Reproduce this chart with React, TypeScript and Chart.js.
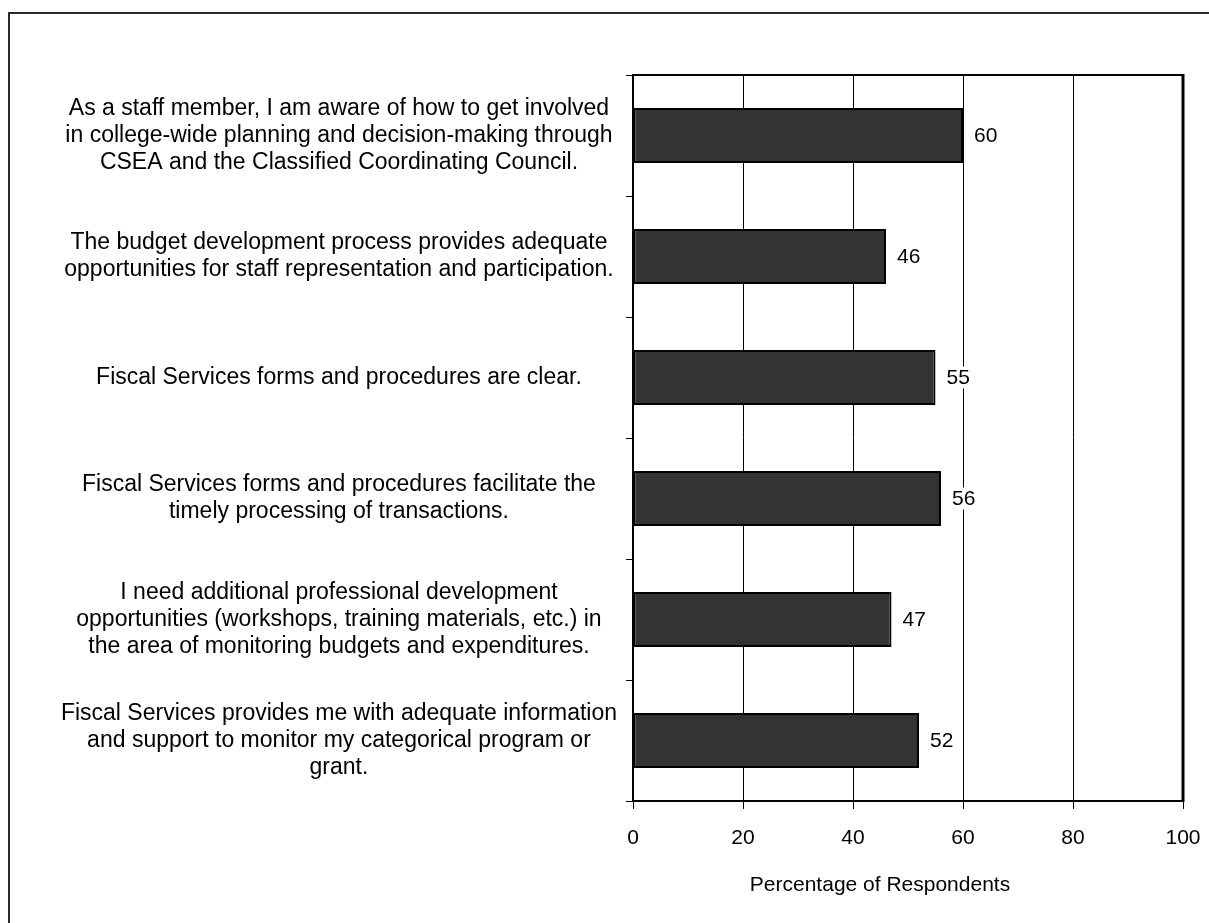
import React, { useEffect, useRef } from "react";
import { Chart, registerables } from "chart.js";

Chart.register(...registerables);

// Survey statements (multi-line labels) and the share of respondents agreeing
const statements: string[][] = [
  [
    "As a staff member, I am aware of how to get involved",
    "in college-wide planning and decision-making through",
    "CSEA and the Classified Coordinating Council.",
  ],
  [
    "The budget development process provides adequate",
    "opportunities for staff representation and participation.",
  ],
  ["Fiscal Services forms and procedures are clear."],
  [
    "Fiscal Services forms and procedures facilitate the",
    "timely processing of transactions.",
  ],
  [
    "I need additional professional development",
    "opportunities (workshops, training materials, etc.) in",
    "the area of monitoring budgets and expenditures.",
  ],
  [
    "Fiscal Services provides me with adequate information",
    "and support to monitor my categorical program or",
    "grant.",
  ],
];

const percentages: number[] = [60, 46, 55, 56, 47, 52];

const axisMin = 0;
const axisMax = 100;
const axisStep = 20;
const axisTitle = "Percentage of Respondents";

const FONT = "'Liberation Sans', Arial, Helvetica, sans-serif";

// Page frame (top and left rule) plus a box around the plotting area
const framePlugin = {
  id: "frame",
  beforeDraw(chart: any) {
    const { ctx, width, height } = chart;
    ctx.save();
    ctx.fillStyle = "#ffffff";
    ctx.fillRect(0, 0, width, height);
    ctx.strokeStyle = "#2a2a2a";
    ctx.lineWidth = 2;
    ctx.beginPath();
    ctx.moveTo(width, 13);
    ctx.lineTo(9, 13);
    ctx.lineTo(9, height);
    ctx.stroke();
    ctx.restore();
  },
  afterDraw(chart: any) {
    const { ctx, chartArea } = chart;
    ctx.save();
    ctx.strokeStyle = "#000000";
    ctx.lineWidth = 2;
    ctx.strokeRect(
      chartArea.left,
      chartArea.top,
      chartArea.right - chartArea.left,
      chartArea.bottom - chartArea.top
    );
    ctx.lineWidth = 3;
    ctx.beginPath();
    ctx.moveTo(chartArea.right, chartArea.top - 1);
    ctx.lineTo(chartArea.right, chartArea.bottom + 1);
    ctx.stroke();

    // axis title, set a little left of the plot centre
    ctx.font = `21px ${FONT}`;
    ctx.fillStyle = "#000000";
    ctx.textAlign = "center";
    ctx.textBaseline = "middle";
    ctx.fillText(axisTitle, (chartArea.left + chartArea.right) / 2 - 28, 885);
    ctx.restore();
  },
};

// Value printed just past the end of each bar, on a white ground
const valueLabelPlugin = {
  id: "valueLabels",
  afterDatasetsDraw(chart: any) {
    const { ctx } = chart;
    const meta = chart.getDatasetMeta(0);
    const values = chart.data.datasets[0].data as number[];
    ctx.save();
    ctx.font = `21px ${FONT}`;
    ctx.textAlign = "left";
    ctx.textBaseline = "middle";
    meta.data.forEach((bar: any, i: number) => {
      const text = String(values[i]);
      const w = ctx.measureText(text).width;
      const x = bar.x + 11;
      ctx.fillStyle = "#ffffff";
      ctx.fillRect(x - 2, bar.y - 11, w + 4, 22);
      ctx.fillStyle = "#000000";
      ctx.fillText(text, x, bar.y + 1);
    });
    ctx.restore();
  },
};

export default function App() {
  const canvasRef = useRef<HTMLCanvasElement | null>(null);

  useEffect(() => {
    const canvas = canvasRef.current;
    if (!canvas) return;

    const chart = new Chart(canvas, {
      type: "bar",
      data: {
        labels: statements,
        datasets: [
          {
            data: percentages,
            backgroundColor: "#333333",
            borderColor: "#000000",
            borderWidth: 2,
            borderSkipped: false,
            categoryPercentage: 1,
            barPercentage: 0.455,
          },
        ],
      },
      options: {
        indexAxis: "y",
        responsive: false,
        animation: false,
        events: [],
        layout: {
          padding: { top: 75, right: 26, bottom: 26, left: 0 },
        },
        plugins: {
          legend: { display: false },
          tooltip: { enabled: false },
          title: { display: false },
        },
        scales: {
          x: {
            type: "linear",
            position: "bottom",
            min: axisMin,
            max: axisMax,
            ticks: {
              stepSize: axisStep,
              color: "#000000",
              padding: 17,
              font: { family: FONT, size: 21 },
            },
            grid: {
              color: "#000000",
              lineWidth: 1,
              drawTicks: true,
              tickLength: 8,
              tickColor: "#000000",
            },
            border: { display: true, color: "#000000", width: 2 },
            afterFit(scale: any) {
              scale.height = 96;
              scale.paddingLeft = 0;
              scale.paddingRight = 0;
            },
          },
          y: {
            type: "category",
            position: "left",
            ticks: {
              color: "#000000",
              crossAlign: "center",
              padding: 9,
              autoSkip: false,
              font: { family: FONT, size: 23, lineHeight: 27 / 23 },
            },
            grid: {
              drawOnChartArea: false,
              drawTicks: true,
              tickLength: 7,
              tickColor: "#000000",
              offset: true,
            },
            border: { display: true, color: "#000000", width: 2 },
            afterFit(scale: any) {
              scale.width = 633;
            },
          },
        },
      },
      plugins: [framePlugin, valueLabelPlugin],
    });

    return () => {
      chart.destroy();
    };
  }, []);

  return (
    <div style={{ position: "absolute", left: 0, top: 0, width: 1209, height: 923 }}>
      <canvas
        ref={canvasRef}
        width={1209}
        height={923}
        style={{ display: "block", width: 1209, height: 923 }}
      />
    </div>
  );
}
